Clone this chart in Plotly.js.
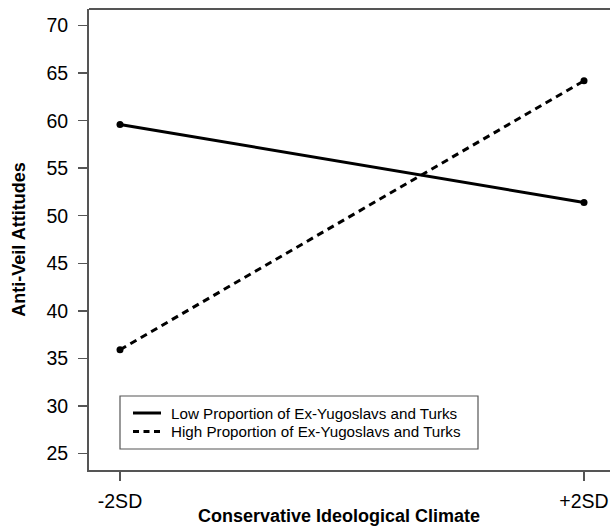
<!DOCTYPE html>
<html>
<head>
<meta charset="utf-8">
<script src="https://cdn.plot.ly/plotly-3.0.1.min.js"></script>
<style>html,body{margin:0;padding:0;background:#fff;overflow:hidden}</style>
</head>
<body>
<div id="chart" style="width:610px;height:526px"></div>
<script>
const xPositions = [0, 1];
const xTickLabels = ["-2SD", "+2SD"];
const lowName = "Low Proportion of Ex-Yugoslavs and Turks";
const highName = "High Proportion of Ex-Yugoslavs and Turks";
const lowValues = [59.6, 51.4];
const highValues = [35.9, 64.2];
const yTicks = [25, 30, 35, 40, 45, 50, 55, 60, 65, 70];

const traces = [
  {x: xPositions, y: lowValues, name: lowName, type: "scatter", mode: "lines+markers",
   line: {color: "#000", width: 3, dash: "solid"}, marker: {color: "#000", size: 7}},
  {x: xPositions, y: highValues, name: highName, type: "scatter", mode: "lines+markers",
   line: {color: "#000", width: 3, dash: "7px,5px"}, marker: {color: "#000", size: 7}}
];

const L = 89, R = 610, T = 9, B = 470;
const px = v => (v - L) / (R - L);
const py = v => (B - v) / (B - T);

// legend (drawn as paper-space decorations)
const legendRows = [
  {name: lowName, dash: "solid", y: 413},
  {name: highName, dash: "6px,4.5px", y: 431.5}
];
const legendShapes = legendRows.map(r => ({type: "line", xref: "paper", yref: "paper",
  x0: px(133), x1: px(161), y0: py(r.y), y1: py(r.y), line: {color: "#000", width: 3, dash: r.dash}}));
const legendTexts = legendRows.map(r => ({text: r.name, xref: "paper", yref: "paper",
  x: px(169), y: py(r.y), xanchor: "left", yanchor: "middle", showarrow: false,
  font: {size: 15.2, color: "#000"}}));

const layout = {
  width: 610, height: 526,
  margin: {l: L, r: 610 - R, t: T, b: 526 - B},
  paper_bgcolor: "#fff", plot_bgcolor: "#fff",
  font: {family: "Liberation Sans, Arial, sans-serif", color: "#000"},
  showlegend: false,
  xaxis: {range: [-0.0668, 1.056], tickvals: xPositions, ticktext: xTickLabels,
    showgrid: false, zeroline: false, showline: true, linecolor: "#555", linewidth: 2,
    ticks: "outside", ticklen: 9, tickwidth: 1.5, tickcolor: "#555",
    tickfont: {size: 19.5}, ticklabelstandoff: 4, fixedrange: true},
  yaxis: {range: [23.25, 71.75], tickvals: yTicks,
    showgrid: false, zeroline: false, showline: true, linecolor: "#555", linewidth: 2,
    ticks: "outside", ticklen: 9, tickwidth: 1.5, tickcolor: "#555",
    tickfont: {size: 19.5}, ticklabelstandoff: 6, fixedrange: true,
    title: {text: "<b>Anti-Veil Attitudes</b>", font: {size: 18}, standoff: 16}},
  annotations: [{text: "<b>Conservative Ideological Climate</b>", xref: "paper", yref: "paper",
    x: px(339), y: py(516), xanchor: "center", yanchor: "middle", showarrow: false,
    font: {size: 18, color: "#000"}}].concat(legendTexts),
  shapes: [
    {type: "line", xref: "paper", yref: "paper", x0: 0, x1: 1, y0: 1, y1: 1,
     line: {color: "#555", width: 2}},
    {type: "rect", xref: "paper", yref: "paper", x0: px(120), x1: px(478), y0: py(449), y1: py(396),
     line: {color: "#555", width: 1.2}, fillcolor: "rgba(0,0,0,0)"}
  ].concat(legendShapes)
};

Plotly.newPlot("chart", traces, layout, {displayModeBar: false, staticPlot: true});
</script>
</body>
</html>
